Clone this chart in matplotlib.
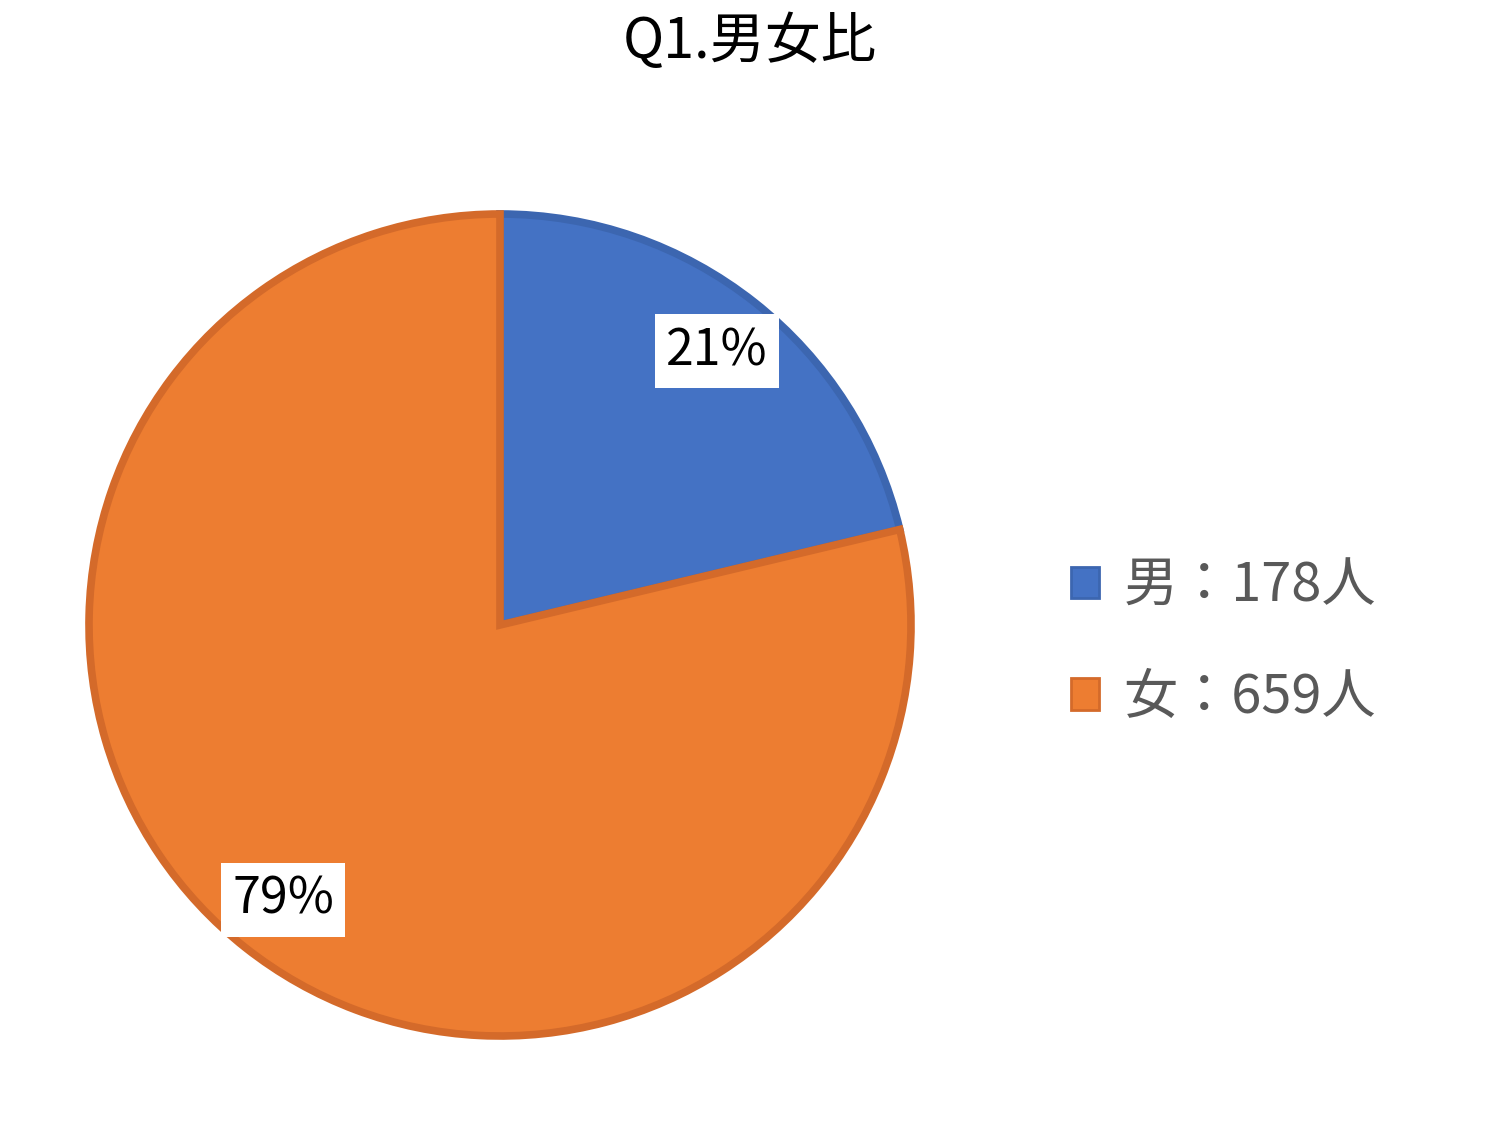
import matplotlib
matplotlib.use("Agg")
import matplotlib.pyplot as plt

plt.rcParams['font.family'] = ['Noto Sans CJK JP', 'DejaVu Sans']

categories = ['男', '女']
counts = [178, 659]
pct_labels = ['21%', '79%']
legend_labels = ['男：178人', '女：659人']
title = 'Q1.男女比'

fills = ['#4472C4', '#ED7D31']
edges = ['#3C66B0', '#D46A2A']

fig = plt.figure(figsize=(15, 11.25), dpi=100)
ax = fig.add_axes([0, 0, 1, 1])
ax.set_xlim(0, 1500)
ax.set_ylim(0, 1125)
ax.set_aspect('equal')
ax.axis('off')

wedges, _ = ax.pie(counts, colors=fills, startangle=90, counterclock=False,
                   center=(500, 1125 - 625), radius=411,
                   wedgeprops=dict(linewidth=5.5, joinstyle='miter'))
for w, ec in zip(wedges, edges):
    w.set_edgecolor(ec)
ax.set_xlim(0, 1500)
ax.set_ylim(0, 1125)

label_pos = [(717, 1125 - 351), (283, 1125 - 900)]
for txt, (x, y) in zip(pct_labels, label_pos):
    ax.text(x, y, txt, fontsize=36, color='black', ha='center', va='center',
            bbox=dict(facecolor='white', edgecolor='none', pad=8))

fig.text(0.5, 1 - 42 / 1125, title, fontsize=40, color='black', ha='center', va='center')

leg = fig.legend(wedges, legend_labels, loc='center left',
                 bbox_to_anchor=(1022 / 1500, 1 - 642 / 1125),
                 frameon=False, fontsize=39, labelcolor='#595959',
                 handlelength=0.52, handleheight=0.52, handletextpad=0.45,
                 labelspacing=1.05)
for h in leg.legend_handles:
    h.set_linewidth(2)

fig.savefig('out.png', dpi=100)
